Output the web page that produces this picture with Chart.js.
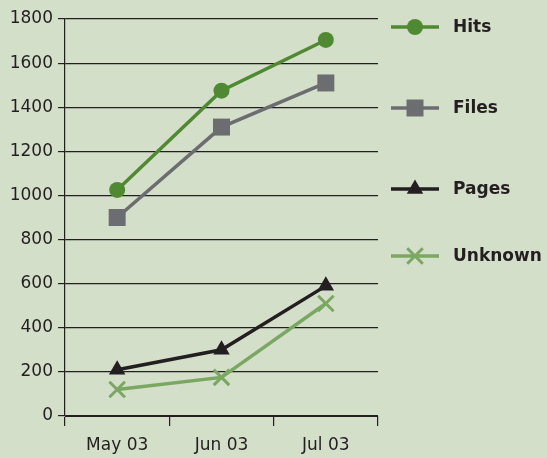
<!DOCTYPE html>
<html>
<head>
<meta charset="utf-8">
<script src="https://cdn.jsdelivr.net/npm/chart.js@4"></script>
<style>
  html, body { margin: 0; padding: 0; background: #d3dfc8; }
  #wrap { width: 547px; height: 458px; position: relative; }
</style>
</head>
<body>
<div id="wrap"><canvas id="chart"></canvas></div>
<script>
const months = ["May 03", "Jun 03", "Jul 03"];
const hits = [1025, 1475, 1705];
const files = [900, 1310, 1510];
const pages = [210, 300, 590];
const unknown = [120, 175, 510];
const yTicks = [0, 200, 400, 600, 800, 1000, 1200, 1400, 1600, 1800];

const ink = "#231f20";
const font = "'DejaVu Sans', sans-serif";

// legend rows drawn by hand, to the right of the plot
const legendRows = [27, 108, 189, 256];

const sideLegend = {
  id: "sideLegend",
  afterDraw(chart) {
    const ctx = chart.ctx;
    chart.data.datasets.forEach((ds, i) => {
      const y = legendRows[i];
      ctx.save();
      ctx.strokeStyle = ds.borderColor;
      ctx.fillStyle = ds.borderColor;
      ctx.lineWidth = ds.borderWidth;
      ctx.beginPath();
      ctx.moveTo(391, y);
      ctx.lineTo(439, y);
      ctx.stroke();
      ctx.lineWidth = ds.pointBorderWidth;
      Chart.helpers.drawPoint(ctx, {
        pointStyle: ds.pointStyle,
        radius: ds.pointRadius,
        borderWidth: ds.pointBorderWidth,
        rotation: 0
      }, 415, y);
      ctx.fillStyle = ink;
      ctx.font = "bold 17px " + font;
      ctx.textBaseline = "middle";
      ctx.fillText(ds.label, 453, y + 1);
      ctx.restore();
    });
  }
};

function series(label, data, color, style, radius) {
  return {
    label, data,
    borderColor: color,
    backgroundColor: color,
    pointBackgroundColor: color,
    pointBorderColor: color,
    borderWidth: 3.5,
    pointStyle: style,
    pointRadius: radius,
    pointHoverRadius: radius,
    pointBorderWidth: style === "crossRot" ? 3 : 0,
    tension: 0
  };
}

new Chart(document.getElementById("chart"), {
  type: "line",
  data: {
    labels: months,
    datasets: [
      series("Hits", hits, "#4f8a33", "circle", 8),
      series("Files", files, "#6c6d70", "rect", 12),
      series("Pages", pages, "#231f20", "triangle", 9.5),
      series("Unknown", unknown, "#7aa862", "crossRot", 11)
    ]
  },
  options: {
    responsive: true,
    maintainAspectRatio: false,
    animation: false,
    events: [],
    layout: { padding: { top: 19, right: 169, left: 0, bottom: 0 } },
    plugins: { legend: { display: false }, tooltip: { enabled: false } },
    scales: {
      x: {
        offset: true,
        afterFit: (s) => { s.height = 42; },
        border: { color: ink, width: 1 },
        grid: {
          offset: true,
          drawOnChartArea: true,
          color: (c) => c.index === 3 ? ink : "transparent",
          tickColor: ink,
          tickLength: 10,
          lineWidth: 1.2
        },
        ticks: { color: ink, font: { family: font, size: 17 }, padding: 9 }
      },
      y: {
        min: 0,
        max: 1800,
        afterFit: (s) => { s.width = 65; },
        afterBuildTicks: (s) => { s.ticks = yTicks.map(v => ({ value: v })); },
        border: { color: ink, width: 1.2 },
        grid: { color: ink, tickColor: ink, tickLength: 7, lineWidth: 1.2 },
        ticks: { color: ink, font: { family: font, size: 17 }, padding: 5, callback: (v) => String(v) }
      }
    }
  },
  plugins: [sideLegend]
});
</script>
</body>
</html>
